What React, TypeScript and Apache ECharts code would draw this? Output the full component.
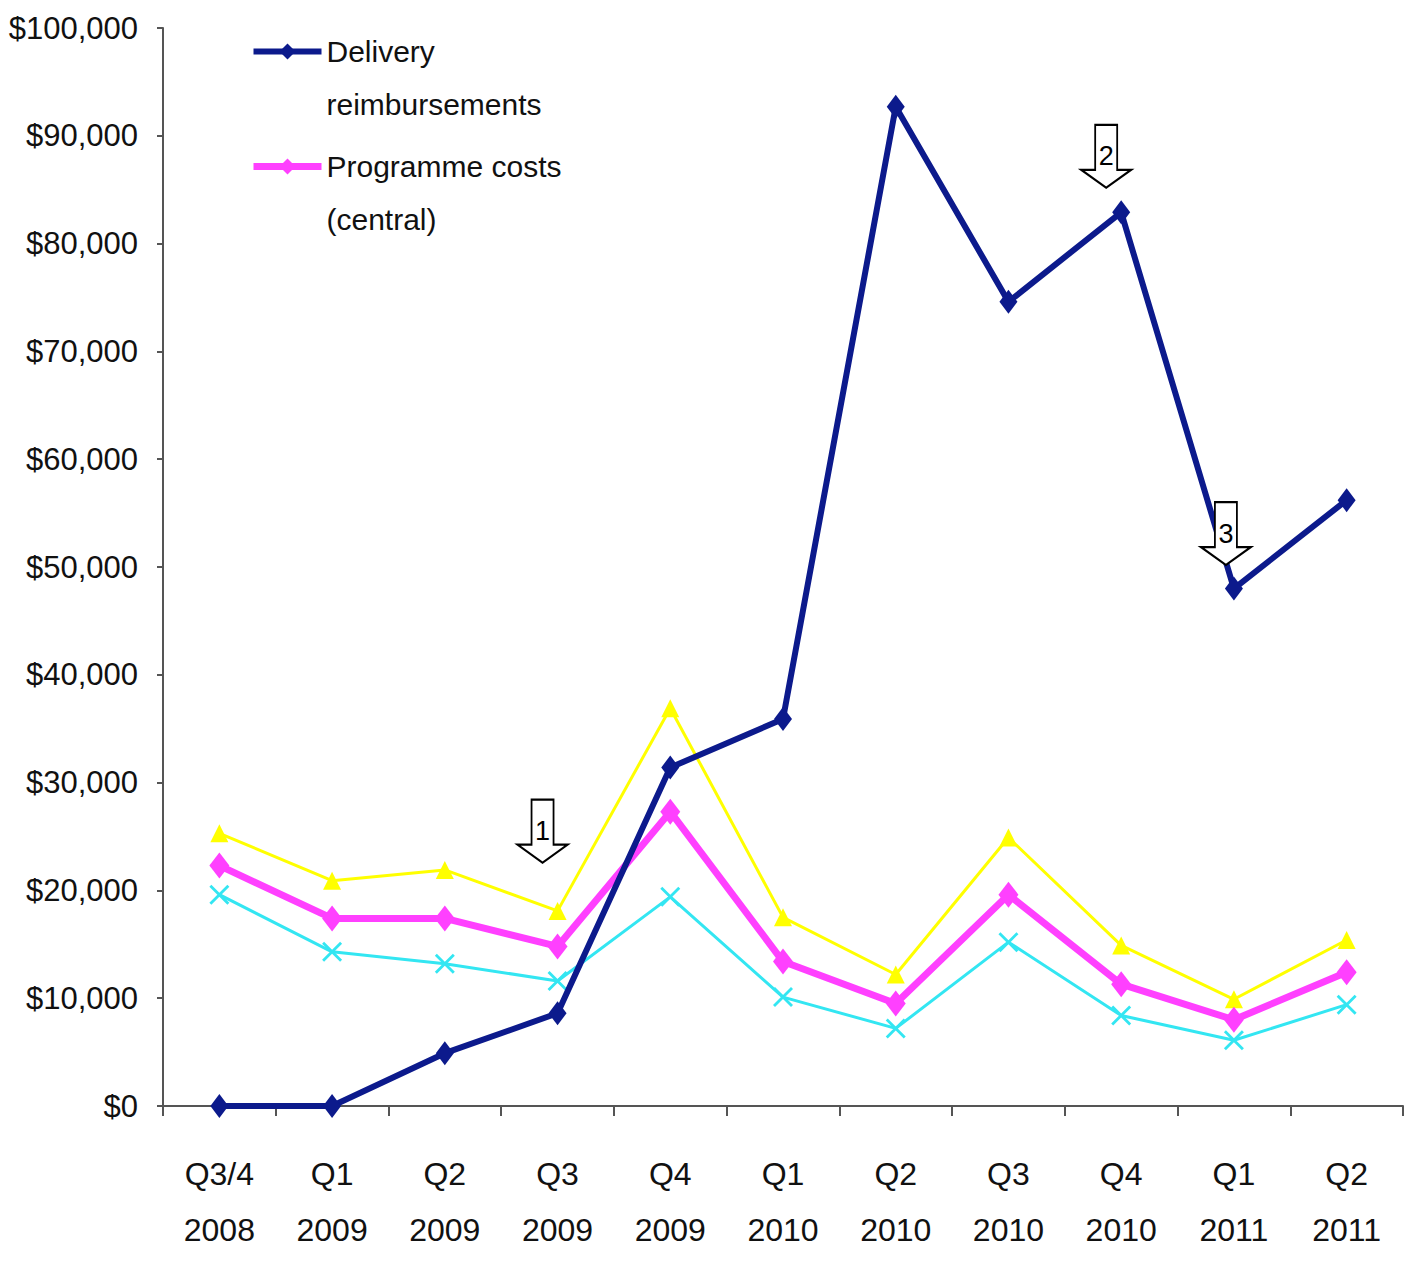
import React, { useEffect, useRef } from "react";
import * as echarts from "echarts";

const categories = [
  "Q3/4\n2008", "Q1\n2009", "Q2\n2009", "Q3\n2009", "Q4\n2009",
  "Q1\n2010", "Q2\n2010", "Q3\n2010", "Q4\n2010", "Q1\n2011", "Q2\n2011",
];
const deliveryReimbursements = [0, 0, 4900, 8600, 31400, 35900, 92700, 74600, 82900, 48000, 56200];
const programmeCostsCentral = [22300, 17400, 17400, 14800, 27300, 13400, 9500, 19600, 11300, 8000, 12400];
const programmeCostsHigh = [25300, 20900, 21900, 18100, 36900, 17500, 12200, 24900, 14900, 9900, 15400];
const programmeCostsLow = [19600, 14300, 13200, 11600, 19400, 10100, 7200, 15200, 8400, 6100, 9400];
const yTicks = { min: 0, max: 100000, interval: 10000 };
const legendNames = ["Delivery reimbursements", "Programme costs (central)"];
const legendLabels: Record<string, string> = {
  "Delivery reimbursements": "\u00a0\nDelivery\nreimbursements",
  "Programme costs (central)": "\u00a0\nProgramme costs\n(central)",
};
// annotation arrows: [category, value, label]
const arrowNotes: [string, number, string][] = [
  ["Q3\n2009", 25500, "1"],
  ["Q4\n2010", 88100, "2"],
  ["Q1\n2011", 53100, "3"],
];
const arrowOffsets = [-15, -15, -8];

const FONT = "'Liberation Sans', Arial, sans-serif";
const ARROW = "path://M14,0 L36,0 L36,45 L50,45 L25,63 L0,45 L14,45 Z";
const XMARK = "path://M0,1 L1,0 L5,4 L9,0 L10,1 L6,5 L10,9 L9,10 L5,6 L1,10 L0,9 L4,5 Z";

export default function App() {
  const ref = useRef<HTMLDivElement>(null);
  useEffect(() => {
    if (!ref.current) return;
    const chart = echarts.init(ref.current, null, { renderer: "svg" });
    chart.setOption({
      animation: false,
      backgroundColor: "#ffffff",
      grid: { left: 163, right: 10, top: 28, bottom: 162 },
      legend: {
        orient: "vertical",
        left: 250,
        top: -28,
        padding: 0,
        itemWidth: 68,
        itemHeight: 20,
        itemGap: -44,
        data: legendNames,
        lineStyle: { width: "inherit" },
        formatter: (n: string) => legendLabels[n] || n,
        textStyle: {
          fontFamily: FONT,
          fontSize: 30,
          lineHeight: 53,
          color: "#111",
        },
      },
      xAxis: {
        type: "category",
        data: categories,
        axisLine: { lineStyle: { color: "#555", width: 2 } },
        axisTick: { show: true, length: 10, lineStyle: { color: "#555", width: 2 } },
        axisLabel: {
          fontFamily: FONT,
          fontSize: 32,
          lineHeight: 56,
          color: "#111",
          margin: 40,
          interval: 0,
        },
      },
      yAxis: {
        type: "value",
        min: yTicks.min,
        max: yTicks.max,
        interval: yTicks.interval,
        splitLine: { show: false },
        axisLine: { show: true, lineStyle: { color: "#555", width: 2 } },
        axisTick: { show: true, length: 6, lineStyle: { color: "#555", width: 2 } },
        axisLabel: {
          fontFamily: FONT,
          fontSize: 31,
          color: "#111",
          margin: 25,
          formatter: (v: number) => "$" + v.toLocaleString("en-US"),
        },
      },
      series: [
        {
          name: "Programme costs (high)",
          type: "line",
          data: programmeCostsHigh,
          lineStyle: { color: "#ffff00", width: 3 },
          itemStyle: { color: "#ffff00" },
          symbol: "triangle",
          symbolSize: 18,
          z: 2,
        },
        {
          name: "Programme costs (low)",
          type: "line",
          data: programmeCostsLow,
          lineStyle: { color: "#33e6f2", width: 3 },
          itemStyle: { color: "#33e6f2" },
          symbol: XMARK,
          symbolSize: 20,
          z: 2,
        },
        {
          name: "Programme costs (central)",
          type: "line",
          data: programmeCostsCentral,
          lineStyle: { color: "#ff40ff", width: 7 },
          itemStyle: { color: "#ff40ff" },
          symbol: "diamond",
          symbolSize: [20, 26],
          z: 3,
        },
        {
          name: "Delivery reimbursements",
          type: "line",
          data: deliveryReimbursements,
          lineStyle: { color: "#0c1a8c", width: 6 },
          itemStyle: { color: "#0c1a8c" },
          symbol: "diamond",
          symbolSize: [18, 24],
          z: 4,
          markPoint: {
            symbol: ARROW,
            symbolSize: [50, 63],
            itemStyle: { color: "#ffffff", borderColor: "#000", borderWidth: 2 },
            label: {
              show: true,
              color: "#000",
              fontFamily: FONT,
              fontSize: 27,
              offset: [0, 0],
              formatter: (p: any) => p.name,
            },
            data: arrowNotes.map(([c, v, l], i) => ({
              name: l,
              coord: [c, v],
              symbolOffset: [arrowOffsets[i], 0],
            })),
          },
        },
      ],
    });
    return () => chart.dispose();
  }, []);
  return <div ref={ref} style={{ width: 1413, height: 1268, position: "absolute", left: 0, top: 0 }} />;
}
